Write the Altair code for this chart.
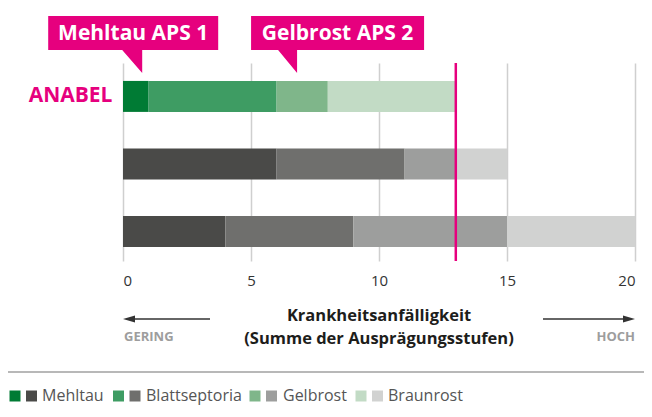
import altair as alt
import pandas as pd

# ---------------- data ----------------
varieties = ["ANABEL", "Sorte B", "Sorte C"]
diseases = ["Mehltau", "Blattseptoria", "Gelbrost", "Braunrost"]
mehltau = [1, 6, 4]
blattseptoria = [5, 5, 5]
gelbrost = [2, 2, 6]
braunrost = [5, 2, 5]
green_colors = ["#007B34", "#3E9C63", "#7FB68A", "#C2DBC5"]
grey_colors = ["#4A4A48", "#6F6F6D", "#9D9E9D", "#D1D2D1"]
reference_value = 13
x_ticks = [0, 5, 10, 15, 20]
callout_labels = ["Mehltau APS 1", "Gelbrost APS 2"]
callout_tips = [0.75, 6.8]
axis_title = "Krankheitsanfälligkeit\n(Summe der Ausprägungsstufen)"
low_label, high_label = "GERING", "HOCH"

# ---------------- styling ----------------
PINK = "#E6007E"
FONT = "Open Sans"
W, H = 512, 198

rows = []
for v, *vals in zip(varieties, mehltau, blattseptoria, gelbrost, braunrost):
    start = 0
    palette = green_colors if v == "ANABEL" else grey_colors
    for i, val in enumerate(vals):
        rows.append(dict(variety=v, disease=diseases[i], start=start,
                         end=start + val, color=palette[i]))
        start += val
bars_df = pd.DataFrame(rows)

x_scale = alt.Scale(domain=[0, 20], nice=False, zero=False)
x_axis = alt.Axis(values=x_ticks, grid=True, gridColor="#CFCFCF", gridWidth=1.5,
                  domain=False, ticks=False, labelPadding=12, labelFontSize=15,
                  labelColor="#333333", labelFont=FONT, format="d", title=None)


def X(field):
    return alt.X(field, scale=x_scale, axis=x_axis)


bars = alt.Chart(bars_df).mark_bar(strokeWidth=0).encode(
    x=X("start:Q"),
    x2="end:Q",
    y=alt.Y("variety:N", sort=varieties,
            scale=alt.Scale(paddingInner=0.541, paddingOuter=0.237, align=0.56),
            axis=alt.Axis(title=None, domain=False, ticks=False,
                          labelExpr="datum.value == 'ANABEL' ? datum.label : ''",
                          labelFontSize=21, labelFontWeight="bold",
                          labelColor=PINK, labelFont=FONT, labelPadding=11)),
    color=alt.Color("color:N", scale=None),
    tooltip=["variety:N", "disease:N"],
)

ref = alt.Chart(pd.DataFrame({"v": [reference_value]})).mark_rule(
    color=PINK, strokeWidth=2.5
).encode(x=X("v:Q"))

layers = [bars, ref]

callout_paths = [
    "M-94,-57H76V-23H0V0L-20,-23H-94Z",
    "M-46,-57H127V-23H0V0L-19,-23H-46Z",
]
callout_dx = [-9, 40.5]
for lab, tip, path, dx in zip(callout_labels, callout_tips, callout_paths, callout_dx):
    cdf = pd.DataFrame({"tip": [tip], "label": [lab]})
    layers.append(
        alt.Chart(cdf).mark_point(shape=path, size=4, filled=True, fill=PINK,
                                  opacity=1, strokeWidth=0).encode(
            x=X("tip:Q"), y=alt.value(10))
    )
    layers.append(
        alt.Chart(cdf).mark_text(color="white", font=FONT, fontWeight="bold",
                                 fontSize=21, dx=dx, dy=-39, baseline="middle").encode(
            x=X("tip:Q"), y=alt.value(10), text="label:N")
    )

# axis title (two lines in one text mark)
layers.append(
    alt.Chart(pd.DataFrame({"t": [axis_title]})).mark_text(
        font=FONT, fontWeight="bold", fontSize=16.5, color="#1D1D1B",
        baseline="alphabetic", lineBreak="\n", lineHeight=23).encode(
        text="t:N", x=alt.value(W / 2), y=alt.value(258))
)

# GERING / HOCH
layers.append(
    alt.Chart(pd.DataFrame({"t": [low_label]})).mark_text(
        font=FONT, fontWeight="bold", fontSize=13, color="#9D9D9D",
        align="left", baseline="middle").encode(
        text="t:N", x=alt.value(1), y=alt.value(274))
)
layers.append(
    alt.Chart(pd.DataFrame({"t": [high_label]})).mark_text(
        font=FONT, fontWeight="bold", fontSize=13, color="#9D9D9D",
        align="right", baseline="middle").encode(
        text="t:N", x=alt.value(W), y=alt.value(274))
)

# arrows
arrow_df = pd.DataFrame({"a": [0]})
layers.append(alt.Chart(arrow_df).mark_rule(color="#333333", strokeWidth=1.5).encode(
    x=alt.value(4), x2=alt.value(87), y=alt.value(256)))
layers.append(alt.Chart(arrow_df).mark_point(
    shape="M0,0L12,-3.5L12,3.5Z", size=4, filled=True, fill="#333333",
    opacity=1, strokeWidth=0).encode(x=alt.value(0), y=alt.value(256)))
layers.append(alt.Chart(arrow_df).mark_rule(color="#333333", strokeWidth=1.5).encode(
    x=alt.value(420), x2=alt.value(W - 4), y=alt.value(256)))
layers.append(alt.Chart(arrow_df).mark_point(
    shape="M0,0L-12,-3.5L-12,3.5Z", size=4, filled=True, fill="#333333",
    opacity=1, strokeWidth=0).encode(x=alt.value(W), y=alt.value(256)))

# separator
layers.append(alt.Chart(arrow_df).mark_rule(color="#A0A0A0", strokeWidth=1.5).encode(
    x=alt.value(-115), x2=alt.value(521), y=alt.value(309)))

# legend
legend_sq_x = [15, 118.5, 255, 361]
legend_txt_x = [42, 146, 283, 388]
for i, d in enumerate(diseases):
    base = pd.DataFrame({"t": [d]})
    layers.append(alt.Chart(base).mark_point(shape="square", size=121, filled=True,
                                             fill=green_colors[i], opacity=1, strokeWidth=0).encode(
        x=alt.value(legend_sq_x[i] - 123), y=alt.value(333)))
    layers.append(alt.Chart(base).mark_point(shape="square", size=121, filled=True,
                                             fill=grey_colors[i], opacity=1, strokeWidth=0).encode(
        x=alt.value(legend_sq_x[i] + 16.5 - 123), y=alt.value(333)))
    layers.append(alt.Chart(base).mark_text(font=FONT, fontSize=16, color="#555555",
                                            align="left", baseline="middle").encode(
        text="t:N", x=alt.value(legend_txt_x[i] - 123), y=alt.value(333)))

chart = alt.layer(*layers).properties(
    width=W, height=H,
    padding={"left": 115, "top": 55, "right": 9, "bottom": 148},
    autosize="none",
).configure_view(stroke=None)

chart.save("out.html", embed_options={"renderer": "svg", "actions": False})
